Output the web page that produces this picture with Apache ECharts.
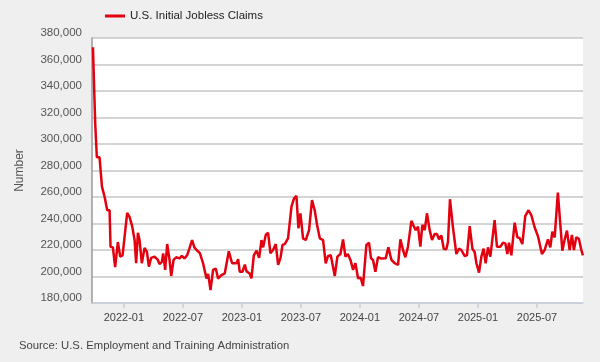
<!DOCTYPE html>
<html>
<head>
<meta charset="utf-8">
<script src="https://cdn.jsdelivr.net/npm/echarts@6/dist/echarts.min.js"></script>
<style>
  html, body { margin: 0; padding: 0; background: #efefef; }
  #chart { width: 600px; height: 362px; }
</style>
</head>
<body>
<div id="chart"></div>
<script>
// Week dates expressed as decimal years
const weeks = [
  2021.738, 2021.757, 2021.771, 2021.794, 2021.814, 2021.837, 2021.859, 2021.879, 2021.887, 2021.907,
  2021.926, 2021.949, 2021.969, 2021.989, 2022.028, 2022.048, 2022.070, 2022.091, 2022.104, 2022.119,
  2022.133, 2022.152, 2022.175, 2022.195, 2022.212, 2022.231, 2022.260, 2022.288, 2022.302, 2022.322,
  2022.333, 2022.350, 2022.367, 2022.387, 2022.401, 2022.421, 2022.443, 2022.472, 2022.491, 2022.514,
  2022.536, 2022.555, 2022.578, 2022.597, 2022.616, 2022.644, 2022.671, 2022.700, 2022.714, 2022.734,
  2022.756, 2022.779, 2022.798, 2022.827, 2022.855, 2022.889, 2022.917, 2022.954, 2022.968, 2022.982,
  2023.005, 2023.025, 2023.039, 2023.067, 2023.081, 2023.101, 2023.124, 2023.146, 2023.166, 2023.180,
  2023.202, 2023.222, 2023.242, 2023.264, 2023.287, 2023.307, 2023.327, 2023.344, 2023.363, 2023.391,
  2023.420, 2023.442, 2023.462, 2023.479, 2023.496, 2023.518, 2023.541, 2023.569, 2023.594, 2023.617,
  2023.637, 2023.660, 2023.688, 2023.710, 2023.730, 2023.753, 2023.787, 2023.809, 2023.835, 2023.857,
  2023.877, 2023.897, 2023.920, 2023.942, 2023.962, 2023.984, 2024.007, 2024.026, 2024.055, 2024.077,
  2024.094, 2024.111, 2024.131, 2024.153, 2024.182, 2024.218, 2024.241, 2024.267, 2024.295, 2024.323,
  2024.343, 2024.365, 2024.385, 2024.407, 2024.436, 2024.458, 2024.473, 2024.492, 2024.512, 2024.529,
  2024.549, 2024.568, 2024.591, 2024.611, 2024.633, 2024.653, 2024.670, 2024.690, 2024.710, 2024.732,
  2024.746, 2024.763, 2024.788, 2024.817, 2024.839, 2024.859, 2024.887, 2024.907, 2024.930, 2024.953,
  2024.972, 2024.987, 2025.009, 2025.029, 2025.048, 2025.065, 2025.085, 2025.105, 2025.141, 2025.161,
  2025.190, 2025.212, 2025.232, 2025.249, 2025.263, 2025.283, 2025.311, 2025.334, 2025.353, 2025.376,
  2025.401, 2025.429, 2025.452, 2025.480, 2025.508, 2025.542, 2025.565, 2025.593, 2025.613, 2025.630,
  2025.650, 2025.677, 2025.715, 2025.734, 2025.754, 2025.777, 2025.796, 2025.813, 2025.833, 2025.855,
  2025.876, 2025.889
];

// Initial jobless claims
const claims = [
  373000, 316000, 290000, 290000, 268000, 260000, 250000, 250000, 222500, 222000,
  207000, 226000, 215000, 216000, 248000, 245000, 238000, 227500, 210000, 233000,
  227500, 210000, 221500, 218700, 207400, 214000, 215000, 212500, 209400, 211000,
  217500, 205000, 224500, 212500, 200400, 212500, 214500, 213700, 215500, 213700,
  216000, 221000, 227500, 222000, 220000, 217700, 210000, 198500, 202000, 189700,
  205000, 206000, 198500, 201000, 202400, 219000, 210000, 210000, 213000, 203600,
  203600, 209000, 204000, 202000, 198600, 216000, 219500, 214000, 227500, 222000,
  231300, 233000, 217500, 220000, 224500, 208700, 214000, 223800, 224500, 228800,
  252700, 259000, 260800, 236400, 247700, 228800, 227500, 235000, 257700, 250000,
  238900, 228800, 227500, 210000, 215500, 216000, 200400, 215000, 217000, 228000,
  215000, 217000, 212500, 205000, 210000, 198700, 199000, 192800, 223800, 225500,
  213700, 212500, 203600, 214500, 213500, 213700, 222000, 212500, 210000, 208700,
  228000, 220000, 214500, 222500, 242000, 237600, 235000, 237600, 222500, 239000,
  235000, 247700, 235000, 227500, 232000, 232000, 228000, 231000, 221000, 220500,
  226000, 258300, 237200, 217000, 221000, 220000, 215500, 216000, 238000, 221000,
  218500, 210000, 202900, 215000, 221000, 210000, 222000, 215000, 242600, 222500,
  222500, 225500, 225000, 217000, 225500, 216000, 240600, 229600, 229000, 224500,
  245700, 250000, 246400, 237200, 230500, 217000, 220000, 228000, 222000, 233800,
  229500, 263300, 219500, 227500, 234600, 220000, 231300, 220000, 229600, 228500,
  220000, 216000
];

// Axis tick labels
const xTickYears = [2022, 2022.5, 2023, 2023.5, 2024, 2024.5, 2025, 2025.5];
const xTickLabels = ['2022-01', '2022-07', '2023-01', '2023-07', '2024-01', '2024-07', '2025-01', '2025-07'];

const seriesName = 'U.S. Initial Jobless Claims';
const yAxisName = 'Number';
const sourceText = 'Source: U.S. Employment and Training Administration';

const chart = echarts.init(document.getElementById('chart'), null, { renderer: 'canvas' });
const font = '"Liberation Sans", Arial, sans-serif';

chart.setOption({
  backgroundColor: '#efefef',
  animation: false,
  textStyle: { fontFamily: font },
  legend: {
    data: [{ name: seriesName, icon: 'rect' }],
    left: 100,
    top: 5,
    itemWidth: 20,
    itemHeight: 3,
    itemGap: 5,
    textStyle: { fontSize: 11.5, color: '#222', fontWeight: 500, fontFamily: font }
  },
  grid: {
    left: 92, right: 17, top: 38, bottom: 59,
    show: true, backgroundColor: '#ffffff', borderWidth: 0,
    containLabel: false
  },
  xAxis: {
    type: 'value',
    min: 2021.73,
    max: 2025.89,
    splitLine: { show: false },
    axisLine: { show: true, lineStyle: { color: '#c7d0dc', width: 1.5 } },
    axisTick: { show: true, customValues: xTickYears, length: 5, lineStyle: { color: '#c7d0dc', width: 1.5 } },
    axisLabel: {
      customValues: xTickYears,
      fontSize: 11,
      color: '#444',
      margin: 9,
      fontFamily: font,
      formatter: function (v) {
        const i = xTickYears.findIndex(t => Math.abs(t - v) < 1e-6);
        return i >= 0 ? xTickLabels[i] : '';
      }
    }
  },
  yAxis: {
    type: 'value',
    min: 180000,
    max: 380000,
    interval: 20000,
    name: yAxisName,
    nameLocation: 'middle',
    nameGap: 66,
    nameTextStyle: { fontSize: 12, color: '#555', fontFamily: font },
    axisLine: { show: true, lineStyle: { color: '#9a9a9a', width: 1.5 } },
    axisTick: { show: false },
    splitLine: { show: true, lineStyle: { color: '#c6c6c6', width: 1.5 } },
    axisLabel: {
      fontSize: 11.5,
      color: '#555',
      margin: 10,
      fontFamily: font,
      verticalAlign: 'bottom',
      lineHeight: 10,
      formatter: function (v) { return v.toLocaleString('en-US'); }
    }
  },
  series: [{
    name: seriesName,
    type: 'line',
    data: weeks.map((w, i) => [w, claims[i]]),
    showSymbol: false,
    symbol: 'none',
    lineStyle: { color: '#e3000f', width: 2.5 },
    itemStyle: { color: '#e3000f' }
  }],
  graphic: [{
    type: 'text',
    left: 19,
    top: 340,
    style: { text: sourceText, fontSize: 11.3, fill: '#444', fontFamily: font }
  }]
});
</script>
</body>
</html>
